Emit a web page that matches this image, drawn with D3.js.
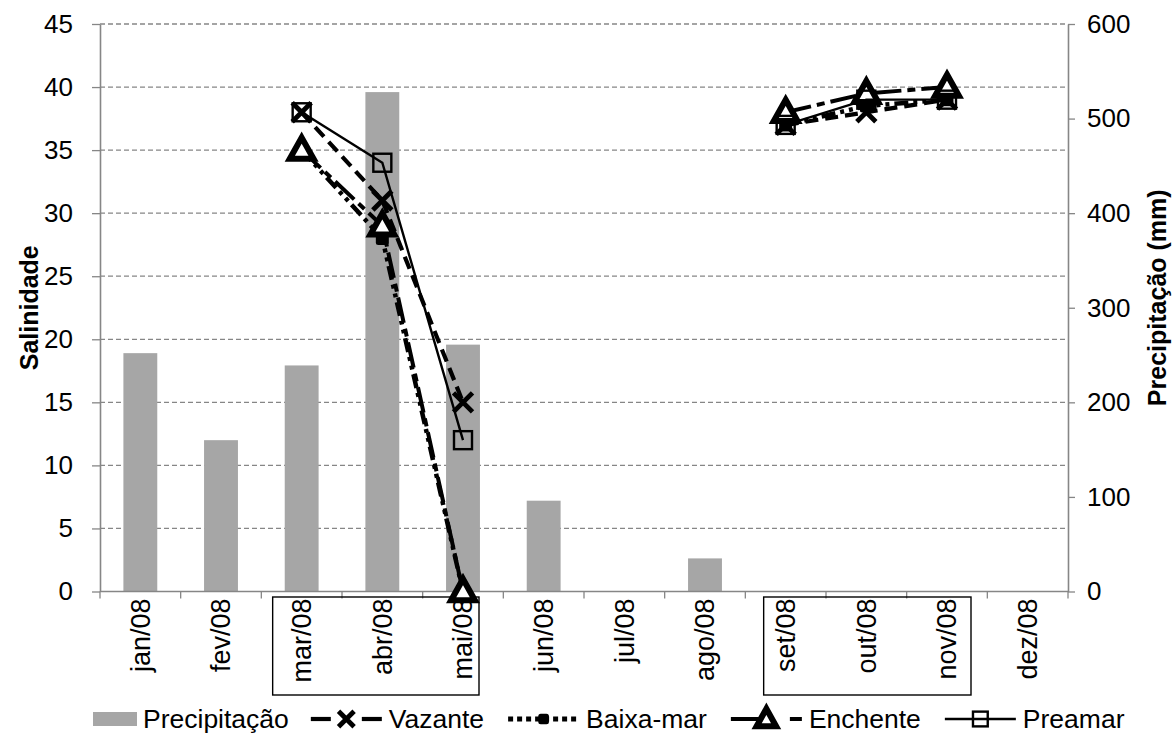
<!DOCTYPE html>
<html>
<head>
<meta charset="utf-8">
<script src="https://cdn.jsdelivr.net/npm/d3@7"></script>
<style>
  html, body { margin: 0; padding: 0; background: #fff; }
  svg { display: block; font-family: "Liberation Sans", Arial, sans-serif; }
</style>
</head>
<body>
<svg id="chart" width="1175" height="742"></svg>
<script>
// Monthly categories
const months = ["jan/08","fev/08","mar/08","abr/08","mai/08","jun/08","jul/08","ago/08","set/08","out/08","nov/08","dez/08"];

// Monthly rainfall (mm), right axis
const precipitacao = [252, 160, 239, 528, 261, 96, 0, 35, 0, 0, 0, 0];

// Salinity by tide stage (null = not sampled)
const vazante   = [null, null, 38, 31, 15, null, null, null, 37, 38, 39, null];
const baixaMar  = [null, null, 35, 28, 0,  null, null, null, 37, 38.5, 39, null];
const enchente  = [null, null, 35, 29, 0,  null, null, null, 38, 39.5, 40, null];
const preamar   = [null, null, 38, 34, 12, null, null, null, 37, 39, 39, null];

const salTicks = [0, 5, 10, 15, 20, 25, 30, 35, 40, 45];
const precTicks = [0, 100, 200, 300, 400, 500, 600];

// Month groups framed under the axis
const sampledGroups = [["mar/08", "mai/08"], ["set/08", "nov/08"]];

const svg = d3.select("#chart");
const plotLeft = 100, plotRight = 1068, plotTop = 24, plotBottom = 591.5;
const axisColor = "#868686";
const tickFont = "26px";

const x = d3.scaleBand().domain(months).range([plotLeft, plotRight]).paddingInner(0.58).paddingOuter(0.29);
const step = x.step();
const cx = m => x(m) + x.bandwidth() / 2;
const yL = d3.scaleLinear().domain([0, 45]).range([plotBottom, plotTop]);
const yR = d3.scaleLinear().domain([0, 600]).range([plotBottom, plotTop]);

// Horizontal dashed gridlines
svg.append("g").selectAll("line")
  .data(salTicks.filter(d => d > 0))
  .join("line")
  .attr("x1", plotLeft).attr("x2", plotRight)
  .attr("y1", d => yL(d)).attr("y2", d => yL(d))
  .attr("stroke", axisColor).attr("stroke-width", 1.3)
  .attr("stroke-dasharray", "5,3");

// Rainfall bars
svg.append("g").selectAll("rect")
  .data(months.map((m, i) => ({ m, v: precipitacao[i] })))
  .join("rect")
  .attr("x", d => x(d.m)).attr("width", x.bandwidth())
  .attr("y", d => yR(d.v)).attr("height", d => plotBottom - yR(d.v))
  .attr("fill", "#a6a6a6");

// Left axis (salinity)
const gL = svg.append("g").attr("transform", `translate(${plotLeft},0)`)
  .call(d3.axisLeft(yL).tickValues(salTicks).tickSize(8).tickSizeOuter(0).tickPadding(19));
// Right axis (rainfall)
const gR = svg.append("g").attr("transform", `translate(${plotRight},0)`)
  .call(d3.axisRight(yR).tickValues(precTicks).tickSize(7).tickSizeOuter(0).tickPadding(12));
[gL, gR].forEach(g => {
  g.select(".domain").attr("stroke", axisColor).attr("stroke-width", 1.6);
  g.selectAll(".tick line").attr("stroke", axisColor).attr("stroke-width", 1.3);
  g.selectAll(".tick text").attr("fill", "#000").style("font-size", tickFont)
    .style("font-family", "'Liberation Sans', Arial, sans-serif");
});

// Bottom axis with ticks on category boundaries
const gB = svg.append("g");
gB.append("line").attr("x1", plotLeft).attr("x2", plotRight).attr("y1", plotBottom).attr("y2", plotBottom)
  .attr("stroke", axisColor).attr("stroke-width", 1.6);
gB.selectAll("line.tk").data(d3.range(months.length + 1)).join("line").attr("class", "tk")
  .attr("x1", i => plotLeft + i * step).attr("x2", i => plotLeft + i * step)
  .attr("y1", plotBottom).attr("y2", plotBottom + 7)
  .attr("stroke", axisColor).attr("stroke-width", 1.3);
gB.selectAll("text").data(months).join("text")
  .attr("transform", m => `translate(${cx(m)},${plotBottom + 7}) rotate(-90)`)
  .attr("text-anchor", "end").attr("dy", "0.35em")
  .style("font-size", "27px").text(m => m);

// Frames around the sampled month labels
sampledGroups.forEach(([a, b], k) => {
  const x0 = k === 0 ? cx(a) - 29 : cx(a) - 22;
  const x1 = k === 0 ? cx(b) + 16 : cx(b) + 24;
  svg.append("rect").attr("x", x0).attr("y", plotBottom + 5.5)
    .attr("width", x1 - x0).attr("height", 98)
    .attr("fill", "none").attr("stroke", "#000").attr("stroke-width", 1.4);
});

// Axis titles
svg.append("text").attr("transform", `translate(38,${(plotTop + plotBottom) / 2}) rotate(-90)`)
  .attr("text-anchor", "middle").style("font-size", "25px").style("font-weight", "bold")
  .text("Salinidade");
svg.append("text").attr("transform", `translate(1166,${(plotTop + plotBottom) / 2 - 10}) rotate(-90)`)
  .attr("text-anchor", "middle").style("font-size", "25px").style("font-weight", "bold")
  .text("Precipitação (mm)");

// Marker shapes
const markers = {
  x: (g, s) => g.append("path").attr("d", `M${-s},${-s}L${s},${s}M${-s},${s}L${s},${-s}`)
      .attr("stroke", "#000").attr("stroke-width", 4.8).attr("fill", "none"),
  fsquare: (g, s) => g.append("rect").attr("x", -s).attr("y", -s).attr("width", 2 * s).attr("height", 2 * s)
      .attr("rx", 2.5).attr("fill", "#000"),
  triangle: (g, s) => g.append("path").attr("d", `M0,${-s}L${s * 0.95},${s * 0.7}L${-s * 0.95},${s * 0.7}Z`)
      .attr("fill", "#fff").attr("stroke", "#000").attr("stroke-width", 6).attr("stroke-linejoin", "miter"),
  osquare: (g, s) => g.append("rect").attr("x", -s).attr("y", -s).attr("width", 2 * s).attr("height", 2 * s)
      .attr("fill", "none").attr("stroke", "#000").attr("stroke-width", 2.4)
};

const series = [
  { name: "Vazante",   values: vazante,  width: 4.2, dash: "13,7",          marker: "x",        size: 9.5 },
  { name: "Baixa-mar", values: baixaMar, width: 4.5, dash: "14,5,4,5,4,5",  marker: "fsquare",  size: 6.5 },
  { name: "Enchente",  values: enchente, width: 4,   dash: "26,6,8,6",      marker: "triangle", size: 12.5 },
  { name: "Preamar",   values: preamar,  width: 2.4, dash: null,            marker: "osquare",  size: 9 }
];

const line = d3.line()
  .defined(d => d.v !== null)
  .x(d => cx(d.m)).y(d => yL(d.v));

series.forEach(s => {
  const pts = months.map((m, i) => ({ m, v: s.values[i] }));
  const g = svg.append("g");
  g.append("path").datum(pts).attr("d", line)
    .attr("fill", "none").attr("stroke", "#000").attr("stroke-width", s.width)
    .attr("stroke-dasharray", s.dash);
  pts.filter(d => d.v !== null).forEach(d => {
    const mg = g.append("g").attr("transform", `translate(${cx(d.m)},${yL(d.v)})`);
    markers[s.marker](mg, s.size);
  });
});

// Legend: short sample strokes per series, drawn as segments [from, to] along the key
const legendStrokes = {
  "Vazante":   [[0, 20], [51, 71]],
  "Baixa-mar": null,
  "Enchente":  [[0, 35], [59, 71]],
  "Preamar":   [[0, 71]]
};
const legendY = 719;
const legendFont = "26.5px";
const symW = 71;
const lg = svg.append("g");
let lx = 93;
lg.append("rect").attr("x", lx).attr("y", legendY - 7).attr("width", 44).attr("height", 14).attr("fill", "#a6a6a6");
let t = lg.append("text").attr("x", lx + 50).attr("y", legendY).attr("dy", "0.35em")
  .style("font-size", legendFont).text("Precipitação");
lx = lx + 50 + t.node().getComputedTextLength() + 22;
series.forEach(s => {
  const segs = legendStrokes[s.name];
  if (segs) {
    segs.forEach(([a, b]) => lg.append("line")
      .attr("x1", lx + a).attr("x2", lx + b).attr("y1", legendY).attr("y2", legendY)
      .attr("stroke", "#000").attr("stroke-width", s.width));
  } else {
    lg.append("line").attr("x1", lx).attr("x2", lx + symW).attr("y1", legendY).attr("y2", legendY)
      .attr("stroke", "#000").attr("stroke-width", 5).attr("stroke-dasharray", "5,4");
  }
  const mg = lg.append("g").attr("transform", `translate(${lx + symW / 2},${legendY})`);
  markers[s.marker](mg, s.size * 0.82);
  const tt = lg.append("text").attr("x", lx + symW + 7).attr("y", legendY).attr("dy", "0.35em")
    .style("font-size", legendFont).text(s.name);
  lx = lx + symW + 7 + tt.node().getComputedTextLength() + 24;
});
</script>
</body>
</html>
